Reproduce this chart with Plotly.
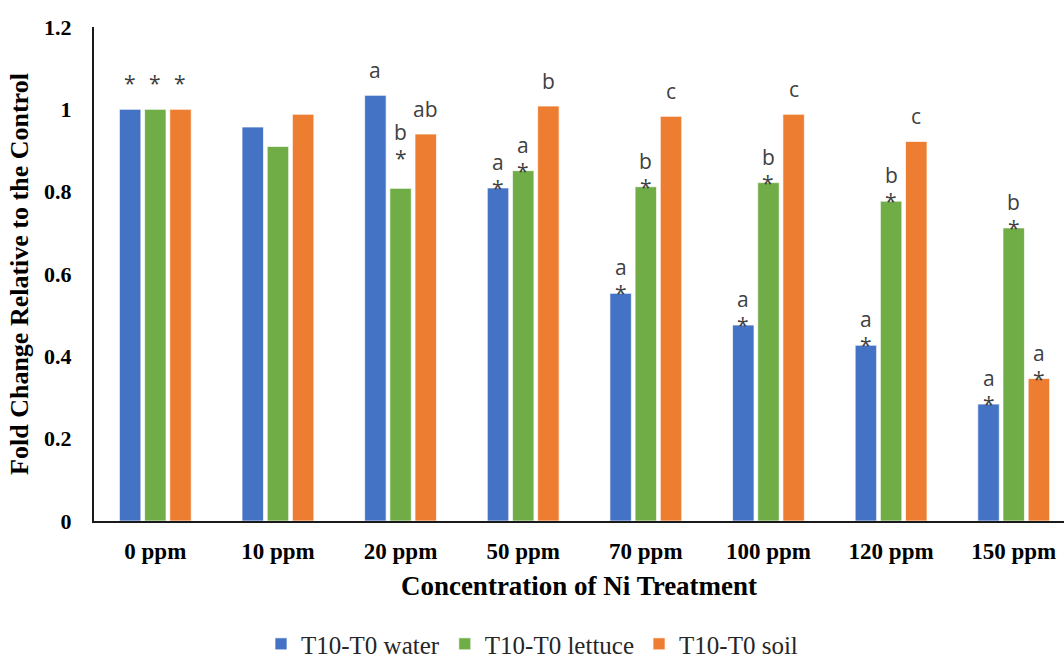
import plotly.graph_objects as go

categories = ["0 ppm", "10 ppm", "20 ppm", "50 ppm", "70 ppm", "100 ppm", "120 ppm", "150 ppm"]
water = [1.0, 0.957, 1.034, 0.809, 0.553, 0.476, 0.427, 0.284]
lettuce = [1.0, 0.910, 0.808, 0.851, 0.812, 0.822, 0.777, 0.712]
soil = [1.0, 0.988, 0.940, 1.008, 0.983, 0.988, 0.922, 0.346]

# significance labels (letter, star) per bar
water_letters = ["", "", "a", "a", "a", "a", "a", "a"]
water_stars = ["*", "", "", "*", "*", "*", "*", "*"]
lettuce_letters = ["", "", "b", "a", "b", "b", "b", "b"]
lettuce_stars = ["*", "", "*", "*", "*", "*", "*", "*"]
soil_letters = ["", "", "ab", "b", "c", "c", "c", "a"]
soil_stars = ["*", "", "", "", "", "", "", "*"]

series = [
    ("T10-T0 water", water, "#4472C4", water_letters, water_stars),
    ("T10-T0 lettuce", lettuce, "#70AD47", lettuce_letters, lettuce_stars),
    ("T10-T0 soil", soil, "#ED7D31", soil_letters, soil_stars),
]

SERIF = "Liberation Serif, Times New Roman, serif"

fig = go.Figure()
for name, vals, color, _, _ in series:
    fig.add_trace(go.Bar(
        x=categories, y=vals, name=name,
        marker=dict(color=color, line=dict(color="rgba(255,255,255,0.7)", width=1)),
    ))

bargap = 0.384
bargroupgap = 0.147
group_w = 1 - bargap
slot = group_w / 3
annotations = []
text_font = dict(family="Open Sans, Noto Sans, sans-serif", size=21, color="#404040")
for si, (name, vals, color, letters, stars) in enumerate(series):
    off = -group_w / 2 + slot * (si + 0.5)
    for ci, v in enumerate(vals):
        star = stars[ci]
        letter = letters[ci]
        xpos = ci + off
        if ci == 0:
            star_shift, letter_shift = 26, 50
        elif ci == 2 and si == 1:
            star_shift, letter_shift = 30, 56
        else:
            star_shift, letter_shift = 0, 26
        if star:
            annotations.append(dict(x=xpos, y=v, xref="x", yref="y", text=star,
                                    showarrow=False, yanchor="middle", yshift=star_shift,
                                    font=text_font))
        if letter:
            ls = letter_shift if star else 25
            annotations.append(dict(x=xpos, y=v, xref="x", yref="y", text=letter,
                                    showarrow=False, yanchor="middle", yshift=ls,
                                    font=text_font))

fig.update_layout(
    width=1064, height=664,
    margin=dict(l=94, r=0, t=27, b=143, autoexpand=False),
    plot_bgcolor="white", paper_bgcolor="white",
    barmode="group", bargap=bargap, bargroupgap=bargroupgap,
    annotations=annotations,
    legend=dict(orientation="h", x=0.5, xref="container", xanchor="center",
                y=0.03, yref="container", yanchor="middle",
                font=dict(family=SERIF, size=25, color="#262626"),
                itemwidth=30, traceorder="normal"),
    showlegend=True,
)
fig.update_xaxes(
    type="category", range=[-0.5, 7.41],
    showline=True, linecolor="#1a1a1a", linewidth=2,
    showgrid=False, ticks="outside", ticklen=8, tickcolor="rgba(0,0,0,0)",
    tickfont=dict(family=SERIF, size=23, color="black", weight="bold"),
    title=dict(text="<b>Concentration of Ni Treatment</b>", standoff=14,
               font=dict(family=SERIF, size=27, color="black")),
)
fig.update_yaxes(
    range=[0, 1.2], dtick=0.2, tick0=0,
    showline=True, linecolor="#1a1a1a", linewidth=2,
    showgrid=False, zeroline=False,
    ticks="outside", ticklen=16, tickcolor="rgba(0,0,0,0)",
    tickfont=dict(family=SERIF, size=22, color="black", weight="bold"),
    title=dict(text="<b>Fold Change Relative to the Control</b>", standoff=8,
               font=dict(family=SERIF, size=26, color="black")),
)

fig.write_html("out.html")
